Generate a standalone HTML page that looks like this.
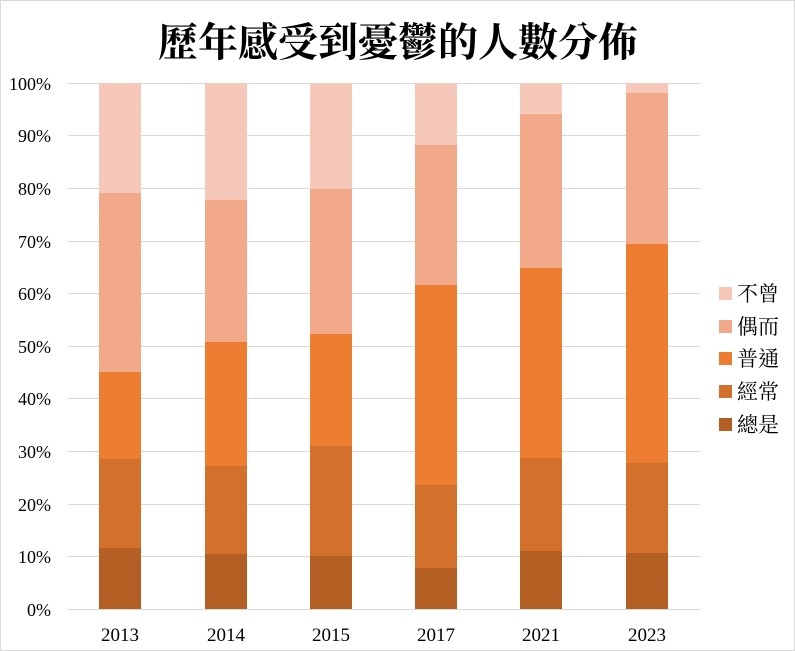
<!DOCTYPE html>
<html><head><meta charset="utf-8"><style>
body{margin:0;background:#fff}
svg{display:block}
text{font-family:"Liberation Serif","Noto Serif CJK TC","Noto Serif CJK SC",serif;fill:#000}
</style></head><body>
<svg width="795" height="651" viewBox="0 0 795 651" xmlns="http://www.w3.org/2000/svg">
<rect x="0.5" y="0.5" width="794" height="650" fill="#fff" stroke="#d9d9d9"/>
<text x="398" y="56" text-anchor="middle" font-size="40" font-weight="bold" style="font-family:'Noto Serif CJK TC','Noto Serif CJK SC',serif">歷年感受到憂鬱的人數分佈</text>
<g stroke="#d9d9d9" stroke-width="1">
<line x1="68" x2="700" y1="83.5" y2="83.5"/><line x1="68" x2="700" y1="135.5" y2="135.5"/>
<line x1="68" x2="700" y1="188.5" y2="188.5"/><line x1="68" x2="700" y1="241.5" y2="241.5"/>
<line x1="68" x2="700" y1="293.5" y2="293.5"/><line x1="68" x2="700" y1="346.5" y2="346.5"/>
<line x1="68" x2="700" y1="398.5" y2="398.5"/><line x1="68" x2="700" y1="451.5" y2="451.5"/>
<line x1="68" x2="700" y1="504.5" y2="504.5"/><line x1="68" x2="700" y1="556.5" y2="556.5"/>
<line x1="68" x2="700" y1="609.5" y2="609.5"/>
</g>
<g font-size="18" text-anchor="end">
<text x="51" y="90">100%</text><text x="51" y="142">90%</text><text x="51" y="195">80%</text>
<text x="51" y="248">70%</text><text x="51" y="300">60%</text><text x="51" y="353">50%</text>
<text x="51" y="405">40%</text><text x="51" y="458">30%</text><text x="51" y="511">20%</text>
<text x="51" y="563">10%</text><text x="51" y="616">0%</text>
</g>
<g>
<rect x="99" y="83" width="42" height="110" fill="#f6c8b9"/><rect x="99" y="193" width="42" height="179" fill="#f1a98a"/>
<rect x="99" y="372" width="42" height="87" fill="#ed7d31"/><rect x="99" y="459" width="42" height="89" fill="#d2702c"/>
<rect x="99" y="548" width="42" height="61" fill="#b35e22"/>
<rect x="205" y="83" width="42" height="117" fill="#f6c8b9"/><rect x="205" y="200" width="42" height="142" fill="#f1a98a"/>
<rect x="205" y="342" width="42" height="124" fill="#ed7d31"/><rect x="205" y="466" width="42" height="88" fill="#d2702c"/>
<rect x="205" y="554" width="42" height="55" fill="#b35e22"/>
<rect x="310" y="83" width="42" height="106" fill="#f6c8b9"/><rect x="310" y="189" width="42" height="145" fill="#f1a98a"/>
<rect x="310" y="334" width="42" height="112" fill="#ed7d31"/><rect x="310" y="446" width="42" height="110" fill="#d2702c"/>
<rect x="310" y="556" width="42" height="53" fill="#b35e22"/>
<rect x="415" y="83" width="42" height="62" fill="#f6c8b9"/><rect x="415" y="145" width="42" height="140" fill="#f1a98a"/>
<rect x="415" y="285" width="42" height="200" fill="#ed7d31"/><rect x="415" y="485" width="42" height="83" fill="#d2702c"/>
<rect x="415" y="568" width="42" height="41" fill="#b35e22"/>
<rect x="520" y="83" width="42" height="31" fill="#f6c8b9"/><rect x="520" y="114" width="42" height="154" fill="#f1a98a"/>
<rect x="520" y="268" width="42" height="190" fill="#ed7d31"/><rect x="520" y="458" width="42" height="93" fill="#d2702c"/>
<rect x="520" y="551" width="42" height="58" fill="#b35e22"/>
<rect x="626" y="83" width="42" height="10" fill="#f6c8b9"/><rect x="626" y="93" width="42" height="151" fill="#f1a98a"/>
<rect x="626" y="244" width="42" height="219" fill="#ed7d31"/><rect x="626" y="463" width="42" height="90" fill="#d2702c"/>
<rect x="626" y="553" width="42" height="56" fill="#b35e22"/>
</g>
<g font-size="19" text-anchor="middle">
<text x="120" y="641">2013</text><text x="226" y="641">2014</text><text x="331" y="641">2015</text>
<text x="436" y="641">2017</text><text x="541" y="641">2021</text><text x="647" y="641">2023</text>
</g>
<g font-size="21">
<rect x="719" y="287" width="13" height="13" fill="#f6c8b9"/><text x="737" y="301">不曾</text>
<rect x="719" y="320" width="13" height="13" fill="#f1a98a"/><text x="737" y="334">偶而</text>
<rect x="719" y="352" width="13" height="13" fill="#ed7d31"/><text x="737" y="366">普通</text>
<rect x="719" y="385" width="13" height="13" fill="#d2702c"/><text x="737" y="399">經常</text>
<rect x="719" y="418" width="13" height="13" fill="#b35e22"/><text x="737" y="432">總是</text>
</g>
</svg>
</body></html>
